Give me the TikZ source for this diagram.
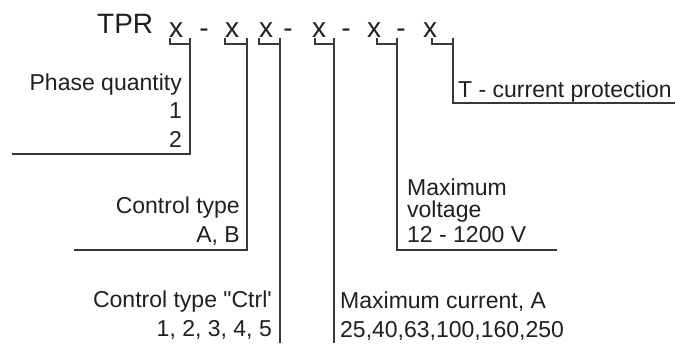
\documentclass[tikz,border=0pt]{standalone}
\usepackage{fontspec}
\setmainfont{Liberation Sans}[Ligatures=TeXOff]
\usepackage{xcolor}
\usetikzlibrary{positioning}
\definecolor{inkc}{gray}{0.12}
\definecolor{leadc}{gray}{0.22}
\newcommand{\headfont}{\fontsize{28}{32}\selectfont}
\newcommand{\lblfont}{\fontsize{23}{28.5}\selectfont}
\tikzset{
  typehead/.style={inner sep=0pt, text=inkc, font=\headfont},
  lbl/.style={inner sep=0pt, text=inkc, align=right, font=\lblfont},
  lblr/.style={lbl, align=left},
  lead/.style={draw=leadc, line width=1.3pt},
}

\begin{document}
\begin{tikzpicture}[x=1pt, y=-1pt]
  \useasboundingbox (0,0) rectangle (675,343);

  %% === Type code row ===
  \node[typehead, anchor=base west] (tpr) at (97,33) {TPR};
  \foreach \i/\cx in {1/176, 2/232, 3/266, 4/319, 5/374, 6/430}
    \node[typehead, anchor=base] (x\i) at (\cx,37) {x};
  \foreach \i/\cx in {1/204, 2/288, 3/346, 4/401}
    \node[typehead, anchor=base] (d\i) at (\cx,37) {-};

  %% === Brackets under each position ===
  \foreach \i/\l/\r in {1/170/190, 2/225/247, 3/259/280,
                        4/315/334, 5/377/397, 6/432/453} {
    \coordinate (a\i) at (\l,38);
    \coordinate (b\i) at (\r,38);
    \draw[lead] (a\i) |- (\r,44);
  }

  %% === Leader ends ===
  \coordinate (e1) at (12,154);
  \coordinate (e2) at (74,250);
  \coordinate (e3) at (280,343);
  \coordinate (e4) at (334,343);
  \coordinate (e5) at (557,250);
  \coordinate (e6) at (675,103);

  %% === Labels (anchored on their last line) ===
  \node[lbl, anchor=base east]  (phase) at (182,147) {Phase quantity\\1\\2};
  \node[lbl, anchor=base east]  (ctype) at (240,242) {Control type\\A, B};
  \node[lbl, anchor=base east]  (cctrl) at (272,336) {Control type "Ctrl'\\1, 2, 3, 4, 5};
  \node[lblr, anchor=base west] (curr)  at (340,337) {Maximum current, A\\25,40,63,100,160,250};
  \node[lblr, anchor=base west, font=\fontsize{23}{22}\selectfont]
        (volt) at (407,242) {Maximum\\voltage\\[3pt]12 - 1200 V};
  \node[lblr, anchor=base west] (prot)  at (458,97)  {T - current protection};

  %% === Leaders ===
  \draw[lead] (b1) |- (e1);
  \draw[lead] (b2) |- (e2);
  \draw[lead] (b3) -- (e3);
  \draw[lead] (b4) -- (e4);
  \draw[lead] (b5) |- (e5);
  \draw[lead] (b6) |- (e6);
\end{tikzpicture}
\end{document}
